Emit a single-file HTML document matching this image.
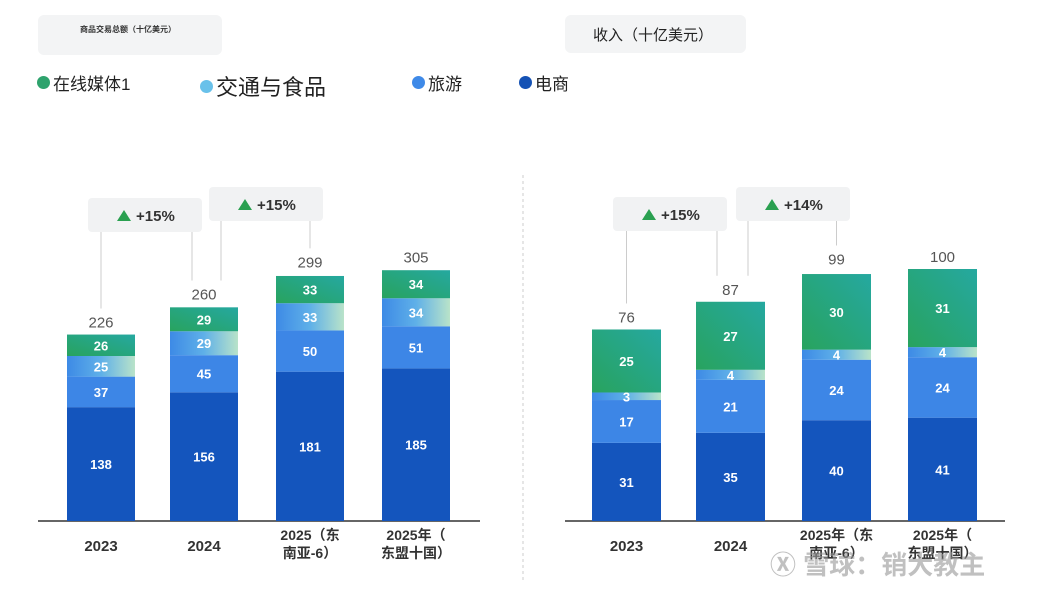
<!DOCTYPE html>
<html><head><meta charset="utf-8">
<style>
body{margin:0;width:1047px;height:596px;background:#fff;overflow:hidden;font-family:"Liberation Sans","Noto Sans CJK SC",sans-serif;position:relative}
.abs{position:absolute}
.box{position:absolute;background:#f3f4f5;border-radius:6px}
.leg{position:absolute;top:70px;font-size:17px;color:#222;display:flex;align-items:center}
.dot{width:13px;height:13px;border-radius:50%;display:inline-block;margin-right:3px}
</style></head><body>
<div class="box" style="left:38px;top:15px;width:184px;height:40px"><div style="font-size:8px;color:#333;margin:9px 0 0 42px;font-weight:bold">商品交易总额（十亿美元）</div></div>
<div class="box" style="left:565px;top:15px;width:181px;height:38px"><div style="font-size:15px;color:#222;margin:9px 0 0 28px">收入（十亿美元）</div></div>
<div class="leg" style="left:37px"><span class="dot" style="background:#2ea36d"></span>在线媒体1</div>
<div class="leg" style="left:200px;font-size:22px;top:70px"><span class="dot" style="background:#69c1ea"></span>交通与食品</div>
<div class="leg" style="left:412px"><span class="dot" style="background:#3f8ae8"></span>旅游</div>
<div class="leg" style="left:519px"><span class="dot" style="background:#1552b5"></span>电商</div>
<svg class="abs" style="left:0;top:0" width="1047" height="596" id="svg">
<defs>
<linearGradient id="gT" x1="0" x2="1"><stop offset="0" stop-color="#3d8ae6"/><stop offset="0.5" stop-color="#5fb0e8"/><stop offset="1" stop-color="#b9e3c9"/></linearGradient>
<linearGradient id="gM" x1="0" x2="1" y1="1" y2="0"><stop offset="0" stop-color="#28a35e"/><stop offset="1" stop-color="#25a8a0"/></linearGradient>
</defs>
<line x1="523" y1="175" x2="523" y2="582" stroke="#ccc" stroke-dasharray="3,3"/>
</svg>
<div class="abs" style="left:770px;top:545px;font-size:26px;color:rgba(150,150,150,0.6);font-weight:bold">Ⓧ 雪球：销大教主</div>
<script>
const cats=["2023","2024","2025（东\n南亚-6）","2025年（\n东盟十国）"];
const catsR=["2023","2024","2025年（东\n南亚-6）","2025年（\n东盟十国）"];
const gmvEcom=[138,156,181,185];
const gmvTravel=[37,45,50,51];
const gmvTransport=[25,29,33,34];
const gmvMedia=[26,29,33,34];
const gmvTotal=[226,260,299,305];
const revEcom=[31,35,40,41];
const revTravel=[17,21,24,24];
const revTransport=[3,4,4,4];
const revMedia=[25,27,30,31];
const revTotal=[76,87,99,100];
const gmvGrowth=["+15%","+15%"];
const revGrowth=["+15%","+14%"];
const NS="http://www.w3.org/2000/svg",svg=document.getElementById('svg');
function mk(t,a,p){const e=document.createElementNS(NS,t);for(const k in a)e.setAttribute(k,a[k]);(p||svg).appendChild(e);return e;}
function chart(cfg){
 const base=521,y=v=>base-v*cfg.scale;
 mk('line',{x1:cfg.ax0,x2:cfg.ax1,y1:base,y2:base,stroke:'#666','stroke-width':2});
 const fills=['#1455bd','#3d86e6','url(#gT)','url(#gM)'];
 const names=['ecommerce','travel','transport','media'];
 const tops=[];
 cfg.xs.forEach((x,i)=>{
  let acc=0;
  cfg.series.forEach((s,j)=>{
   const v=s[i],y0=y(acc),y1=y(acc+v);
   const r=mk('rect',{x:x,y:y1,width:cfg.w,height:y0-y1,fill:fills[j]});
   
   
   const t=mk('text',{x:x+cfg.w/2,y:(y0+y1)/2+5,'text-anchor':'middle',fill:'#fff','font-size':13,'font-weight':'bold'});
   t.textContent=v;
   acc+=v;
  });
  tops.push(y(cfg.total[i]));
  const tt=mk('text',{x:x+cfg.w/2,y:y(cfg.total[i])-7,'text-anchor':'middle',fill:'#555','font-size':15});
  tt.textContent=cfg.total[i];
  
  
  const lines=cfg.cats[i].split('\n');
  lines.forEach((l,k)=>{
   const c=mk('text',{x:x+cfg.w/2,y:lines.length>1?540+k*18:551,'text-anchor':'middle',fill:'#333','font-size':lines.length>1?14:15,'font-weight':'bold'});
   c.textContent=l;
  });
 });
 cfg.growth.forEach((g,k)=>{
  const b=cfg.boxes[k];
  const r=mk('rect',{x:b[0],y:b[1],width:114,height:34,rx:4,fill:'#f1f2f3'});
  
  
  mk('polygon',{points:`${b[0]+29},${b[1]+23} ${b[0]+36},${b[1]+12} ${b[0]+43},${b[1]+23}`,fill:'#2aa050'});
  const t=mk('text',{x:b[0]+48,y:b[1]+23,fill:'#333','font-size':15,'font-weight':'bold'});t.textContent=g;
  const xa=cfg.xs[k]+cfg.w/2, xb=cfg.xs[k+1]+cfg.w/2;
  const xl=k==0?xa:b[0]+12;
  mk('line',{x1:xl,x2:xl,y1:b[1]+34,y2:tops[k]-26,stroke:'#ccc'});
  const xr=k==0?b[0]+104:xb;
  mk('line',{x1:xr,x2:xr,y1:b[1]+34,y2:tops[k+1]-26,stroke:'#ccc'});
 });
}
chart({xs:[67,170,276,382],w:68,scale:0.825,ax0:38,ax1:480,series:[gmvEcom,gmvTravel,gmvTransport,gmvMedia],total:gmvTotal,cats:cats,growth:gmvGrowth,boxes:[[88,198],[209,187]]});
chart({xs:[592,696,802,908],w:69,scale:2.52,ax0:565,ax1:1005,series:[revEcom,revTravel,revTransport,revMedia],total:revTotal,cats:catsR,growth:revGrowth,boxes:[[613,197],[736,187]]});
</script>
</body></html>
